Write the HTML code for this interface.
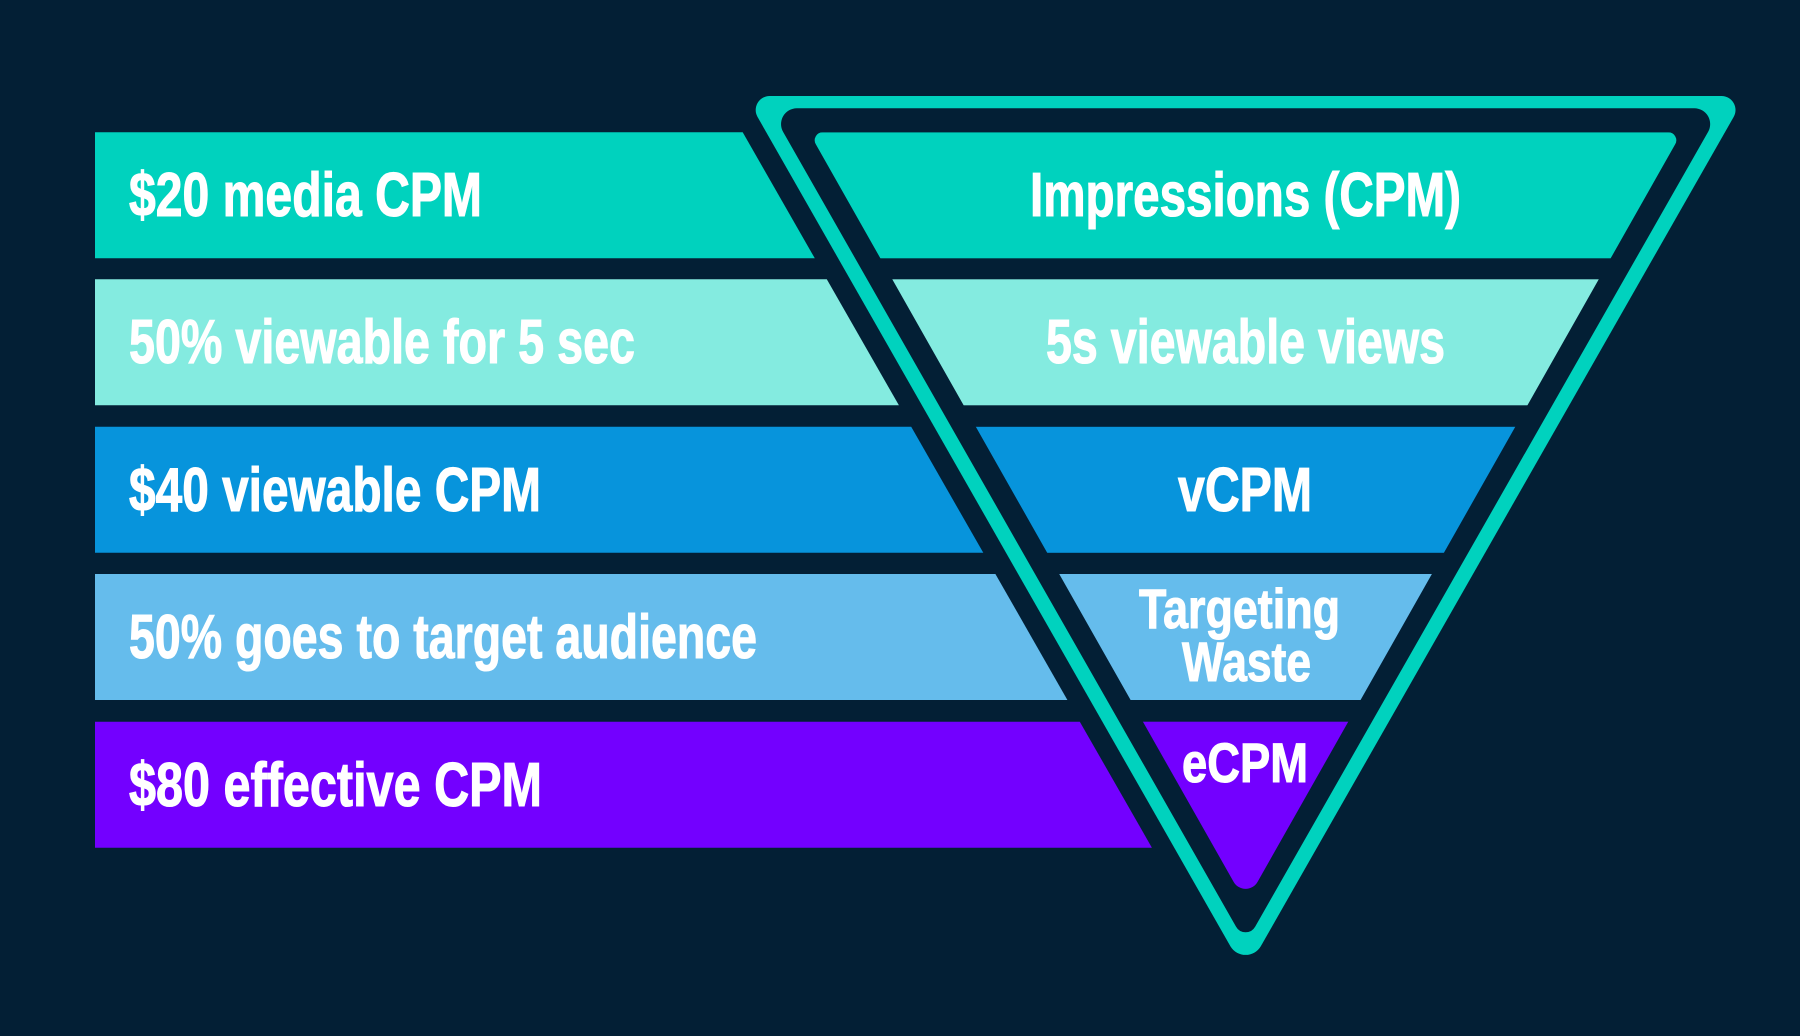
<!DOCTYPE html>
<html>
<head>
<meta charset="utf-8">
<style>
html,body{margin:0;padding:0;background:#031f35;width:1800px;height:1036px;overflow:hidden}
svg{display:block}
text{font-family:"Liberation Sans Narrow","Liberation Sans",Arial,sans-serif;font-weight:700;fill:#fff;stroke:#fff;stroke-width:1.1}
</style>
</head>
<body>
<svg width="1800" height="1036" viewBox="0 0 1800 1036" xmlns="http://www.w3.org/2000/svg">
<defs>
<clipPath id="f"><path d="M822.8 132.3H1668.2A8 8 0 0 1 1675.2 144.3L1257.5 882A13.7 13.7 0 0 1 1233.7 882L815.8 144.3A8 8 0 0 1 822.8 132.3Z"/></clipPath>
</defs>
<rect width="1800" height="1036" fill="#031f35"/>
<path fill="#00d2be" d="M769.6 96H1721.6A14 14 0 0 1 1733.7 116.9L1260.8 946.2A17.6 17.6 0 0 1 1230.4 946.2L757.5 116.9A14 14 0 0 1 769.6 96Z"/>
<path fill="#031f35" d="M796.8 108.3H1694.4A15.8 15.8 0 0 1 1708.1 131.9L1255.2 926.6A11 11 0 0 1 1236 926.6L783.1 131.9A15.8 15.8 0 0 1 796.8 108.3Z"/>
<g clip-path="url(#f)">
<rect x="780" y="132.3" width="930" height="126" fill="#00d2be"/>
<rect x="780" y="279.3" width="930" height="126" fill="#84ebe0"/>
<rect x="780" y="426.8" width="930" height="126" fill="#0794dc"/>
<rect x="780" y="574" width="930" height="126" fill="#65bcec"/>
<rect x="780" y="721.7" width="930" height="190" fill="#7300ff"/>
</g>
<polygon fill="#00d2be" points="95,132.3 742.7,132.3 814.8,258.3 95,258.3"/>
<polygon fill="#84ebe0" points="95,279.3 826.8,279.3 898.9,405.3 95,405.3"/>
<polygon fill="#0794dc" points="95,426.8 911.2,426.8 983.3,552.8 95,552.8"/>
<polygon fill="#65bcec" points="95,574 995.4,574 1067.4,700 95,700"/>
<polygon fill="#7300ff" points="95,721.7 1079.8,721.7 1151.9,847.7 95,847.7"/>
<g font-size="62">
<text x="129" y="216" textLength="353" lengthAdjust="spacingAndGlyphs">$20 media CPM</text>
<text x="129" y="363" textLength="506" lengthAdjust="spacingAndGlyphs">50% viewable for 5 sec</text>
<text x="129" y="511" textLength="412" lengthAdjust="spacingAndGlyphs">$40 viewable CPM</text>
<text x="129" y="658" textLength="628" lengthAdjust="spacingAndGlyphs">50% goes to target audience</text>
<text x="129" y="806" textLength="413" lengthAdjust="spacingAndGlyphs">$80 effective CPM</text>
<text x="1030" y="216" textLength="431" lengthAdjust="spacingAndGlyphs">Impressions (CPM)</text>
<text x="1046" y="363" textLength="399" lengthAdjust="spacingAndGlyphs">5s viewable views</text>
<text x="1178" y="511" textLength="134" lengthAdjust="spacingAndGlyphs">vCPM</text>
</g>
<g font-size="56">
<text x="1139" y="628" textLength="201" lengthAdjust="spacingAndGlyphs">Targeting</text>
<text x="1182" y="681" textLength="129" lengthAdjust="spacingAndGlyphs">Waste</text>
<text x="1182" y="782" textLength="126" lengthAdjust="spacingAndGlyphs">eCPM</text>
</g>
</svg>
</body>
</html>
